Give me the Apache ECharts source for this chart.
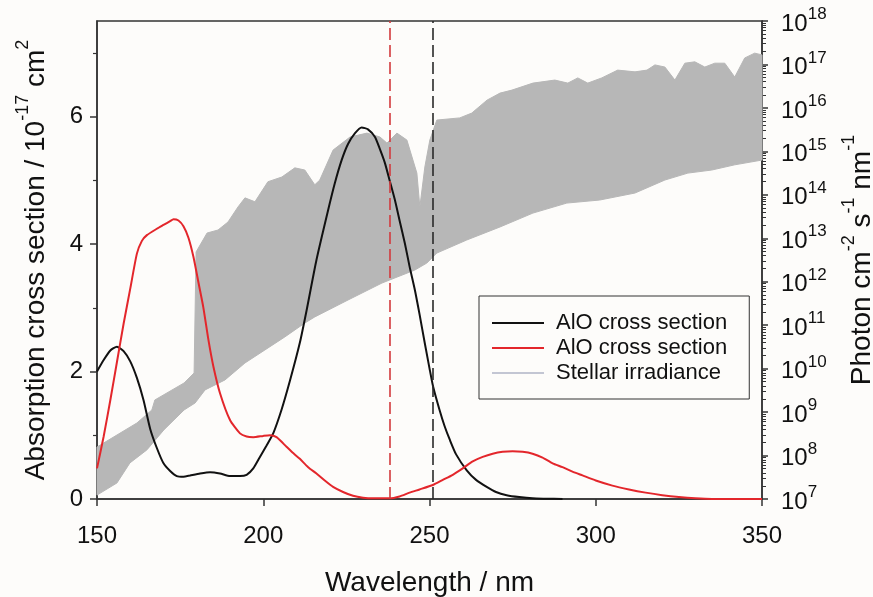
<!DOCTYPE html>
<html><head><meta charset="utf-8">
<script src="https://cdn.jsdelivr.net/npm/echarts@6/dist/echarts.min.js"></script>
<style>html,body{margin:0;padding:0;background:#fdfcfa}#c{width:873px;height:597px}</style>
</head><body><div id="c"></div>
<script>
// ---- data ----
const xTicks = [150, 200, 250, 300, 350];
const leftTicks = [0, 2, 4, 6];
const leftMinorTicks = [1, 3, 5, 7];
const redMark = 238;
const blackMark = 251;

const blackNm  = [150,152,154,156,158,160,162,164,166,168,170,172,174,176,178,181,184,187,190,193,195,197,199,201,203,205.5,208,211,213,216,219.5,221.5,223.6,225.5,227.6,229.6,231.5,233.6,235,236.6,238,239.6,241,242.6,244,245.6,247,248.6,250,251.1,253,254.5,256.1,258,261.2,264,267.2,270,273.2,277,281,285,290];
const blackVal = [2.00,2.18,2.33,2.39,2.32,2.16,1.90,1.55,1.10,0.80,0.56,0.44,0.36,0.35,0.37,0.40,0.42,0.40,0.36,0.36,0.38,0.48,0.66,0.84,1.03,1.40,1.85,2.45,2.95,3.75,4.53,4.95,5.32,5.57,5.74,5.83,5.80,5.68,5.50,5.27,5.00,4.69,4.37,4.01,3.65,3.28,2.90,2.44,2.05,1.76,1.40,1.15,0.93,0.70,0.45,0.30,0.19,0.11,0.06,0.03,0.01,0.005,0];

const redNm  = [150,152,154,156,158,160,162,163.5,165,168,170,172,173,174.5,176,177.5,179,180.5,182,183.5,185,187,190,193,195,197,200,202,204,207,209,211,213.5,216,218.5,221,224,227,230,233,236,238,241,244,247,251,254,257,260,263,266,269,272,275,278,281,284,287,290,293,296,300,305,310,315,320,325,330,335,340,350];
const redVal = [0.48,0.98,1.55,2.15,2.75,3.30,3.85,4.05,4.14,4.24,4.30,4.36,4.39,4.37,4.28,4.10,3.80,3.40,3.00,2.50,2.08,1.66,1.24,1.03,0.98,0.97,0.99,1.00,0.97,0.82,0.72,0.63,0.50,0.40,0.29,0.19,0.11,0.05,0.02,0.01,0.01,0.01,0.04,0.10,0.15,0.22,0.30,0.38,0.48,0.59,0.66,0.71,0.74,0.75,0.74,0.71,0.65,0.56,0.50,0.43,0.37,0.29,0.21,0.15,0.10,0.06,0.03,0.01,0,0,0];

// stellar irradiance (photon cm-2 s-1 nm-1): upper and lower envelope of the line spectrum
const specUpperNm  = [150,156,162,166.5,167.4,176.2,179.2,179.8,183.1,186.4,189.4,192.4,194.5,197.5,201.4,205.6,209.5,212.5,215.5,217,221,226.1,231.2,235.1,237.2,240.2,243.2,246.2,247.1,248.6,250.1,252.2,259.1,262.7,267.3,271.2,274.8,281.1,287.7,291.6,294.6,297.6,301.8,306.6,311.8,315.4,317.8,320.8,323.8,326.8,329.8,332.8,335.8,338.8,341.8,344.8,347.8,350];
const specUpperVal = [1.57e8,2.97e8,5.61e8,1.12e9,1.90e9,4.68e9,7.94e9,4.84e12,1.32e13,1.55e13,2.37e13,5.25e13,8.51e13,6.92e13,2.0e14,2.57e14,4.17e14,3.72e14,1.70e14,2.19e14,1.07e15,2.14e15,2.63e15,2.14e15,1.55e15,2.63e15,1.82e15,3.16e14,5.25e13,4.37e14,1.82e15,5.25e15,5.89e15,7.59e15,1.51e16,2.19e16,2.57e16,3.72e16,4.37e16,3.72e16,4.90e16,3.72e16,4.90e16,7.41e16,6.76e16,7.41e16,9.77e16,8.71e16,4.37e16,1.07e17,1.15e17,8.71e16,1.07e17,1.07e17,5.13e16,1.41e17,1.82e17,1.66e17];
const specLowerNm  = [150,156,159.9,165,170.1,176.2,179.5,182.5,188.5,194.5,200.5,206.5,212.5,215.5,225.5,235.7,245.6,249.2,252.2,261.2,271.2,281.1,291.3,301.2,311.8,320.8,327.7,334.9,341.8,350];
const specLowerVal = [1.23e7,2.34e7,6.76e7,1.35e8,3.89e8,1.12e9,1.62e9,3.24e9,5.50e9,1.35e10,2.69e10,5.37e10,1.12e11,1.55e11,3.80e11,9.33e11,1.86e12,2.69e12,4.57e12,9.12e12,1.82e13,3.80e13,6.46e13,7.59e13,1.10e14,2.19e14,3.16e14,3.72e14,4.90e14,6.31e14];

const seriesNames = ['AlO cross section', 'AlO cross section ', 'Stellar irradiance'];

// ---- chart ----
const FONT = 'Liberation Sans, Arial, sans-serif';
const chart = echarts.init(document.getElementById('c'), null, {renderer: 'canvas'});
const zip = (a, b) => a.map((v, i) => [v, b[i]]);
const supRich = {
  a: {fontSize: 28, fontFamily: FONT, color: '#111', lineHeight: 36, verticalAlign: 'bottom'},
  s: {fontSize: 18, fontFamily: FONT, color: '#111', lineHeight: 18, verticalAlign: 'top'}
};
const option = {
  backgroundColor: '#fdfcfa',
  animation: false,
  textStyle: {fontFamily: FONT},
  grid: {left: 97, right: 111, top: 21, bottom: 98, outerBoundsMode: 'none', containLabel: false,
         show: true, borderColor: '#333', borderWidth: 1.5, backgroundColor: 'transparent'},
  legend: {
    orient: 'vertical', left: 479, top: 296,
    borderColor: '#333', borderWidth: 1,
    padding: [16, 16, 15, 13],
    itemGap: 3, itemWidth: 52, itemHeight: 2, icon: 'rect',
    textStyle: {fontSize: 22, lineHeight: 22, fontFamily: FONT, color: '#111', padding: [0, 0, 0, 7]},
    data: seriesNames
  },
  xAxis: [{
    type: 'value', min: xTicks[0], max: xTicks[xTicks.length - 1], interval: 50,
    axisLine: {lineStyle: {color: '#333', width: 1.5}},
    axisTick: {length: 7, lineStyle: {color: '#333', width: 1.5}},
    axisLabel: {fontSize: 24, margin: 25, color: '#111', fontFamily: FONT},
    splitLine: {show: false},
    name: 'Wavelength / nm', nameLocation: 'middle', nameGap: 70,
    nameTextStyle: {fontSize: 28, color: '#111', fontFamily: FONT}
  }],
  yAxis: [{
    type: 'value', min: 0, max: 7.5, position: 'left',
    axisLine: {show: true, lineStyle: {color: '#333', width: 1.5}},
    axisTick: {show: true, length: 7, customValues: leftTicks, lineStyle: {color: '#333', width: 1.5}},
    axisLabel: {fontSize: 24, margin: 14, color: '#111', fontFamily: FONT, customValues: leftTicks},
    splitLine: {show: false},
    name: '{a|Absorption cross section / 10}{s|-17}{a| cm}{s|2}',
    nameLocation: 'middle', nameGap: 47, nameRotate: 90,
    nameTextStyle: {rich: supRich}
  }, {
    type: 'log', min: 1e7, max: 1e18, interval: 1, position: 'right', logBase: 10,
    axisLine: {show: true, lineStyle: {color: '#333', width: 1.5}},
    axisTick: {show: true, length: 6, lineStyle: {color: '#333', width: 1.5}},
    minorTick: {show: true, splitNumber: 9, length: 4, lineStyle: {color: '#333', width: 1}},
    axisLabel: {
      margin: 19,
      formatter: function (v) { return '{b|10}{e|' + Math.round(Math.log10(v)) + '}'; },
      rich: {
        b: {fontSize: 24, fontFamily: FONT, color: '#111', lineHeight: 30, verticalAlign: 'bottom'},
        e: {fontSize: 17, fontFamily: FONT, color: '#111', lineHeight: 17, verticalAlign: 'top'}
      }
    },
    splitLine: {show: false},
    name: '{a|Photon cm}{s|-2}{a| s}{s|-1}{a| nm}{s|-1}',
    nameLocation: 'middle', nameGap: 78, nameRotate: 90,
    nameTextStyle: {rich: supRich}
  }, {
    type: 'value', min: 0, max: 7.5, position: 'left',
    axisLine: {show: false},
    axisTick: {show: true, length: 4, customValues: leftMinorTicks, lineStyle: {color: '#333', width: 1.2}},
    axisLabel: {show: false},
    splitLine: {show: false}
  }],
  series: [{
    type: 'custom', name: seriesNames[2], xAxisIndex: 0, yAxisIndex: 1, z: 1, silent: true,
    itemStyle: {color: '#c3c6d3'},
    data: [[specUpperNm[0], specUpperVal[0]]],
    renderItem: function (params, api) {
      const pts = [];
      for (let i = 0; i < specUpperNm.length; i++) pts.push(api.coord([specUpperNm[i], specUpperVal[i]]));
      for (let i = specLowerNm.length - 1; i >= 0; i--) pts.push(api.coord([specLowerNm[i], specLowerVal[i]]));
      return {type: 'polygon', shape: {points: pts}, style: {fill: '#b7b7b7', stroke: '#b7b7b7', lineWidth: 1}};
    }
  }, {
    type: 'line', name: seriesNames[0], xAxisIndex: 0, yAxisIndex: 0, z: 3,
    data: zip(blackNm, blackVal), showSymbol: false, smooth: 0.2,
    color: '#111', lineStyle: {color: '#111', width: 2}
  }, {
    type: 'line', name: seriesNames[1], xAxisIndex: 0, yAxisIndex: 0, z: 4,
    data: zip(redNm, redVal), showSymbol: false, smooth: 0.2,
    color: '#e3262b', lineStyle: {color: '#e3262b', width: 2},
    markLine: {
      silent: true, symbol: 'none', label: {show: false}, z: 5,
      data: [
        {xAxis: redMark, lineStyle: {color: '#d23a3e', type: [12, 5], width: 1.6}},
        {xAxis: blackMark, lineStyle: {color: '#2a2a2a', type: [12, 5], width: 1.6}}
      ]
    }
  }]
};
chart.setOption(option);
</script>
</body></html>
